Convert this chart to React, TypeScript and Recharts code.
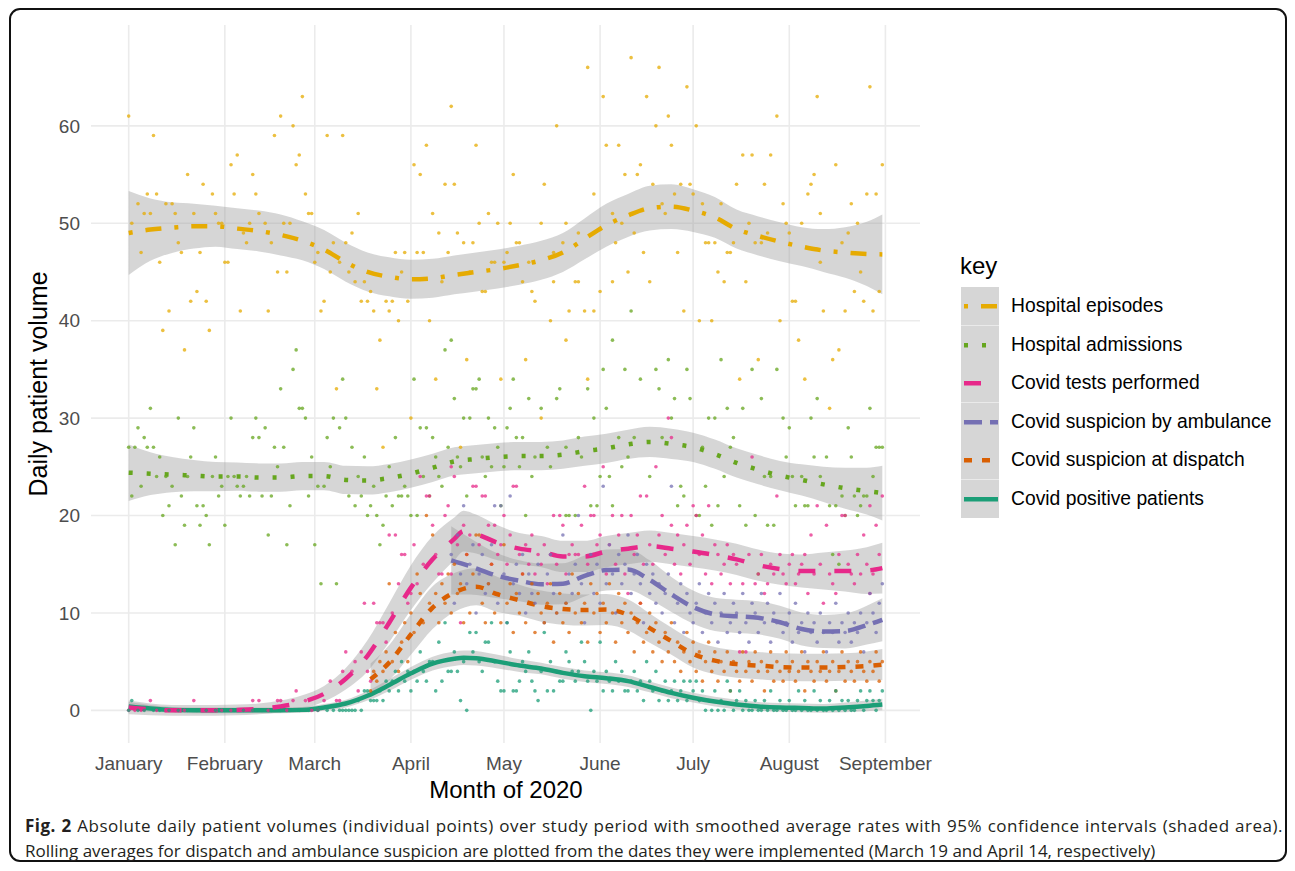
import React from 'react';
import { ComposedChart, Line, Area, Scatter, XAxis, YAxis, CartesianGrid } from 'recharts';

// Day of 2020 (0 = January 1) for the month ticks.
const monthTicks = [0, 31, 60, 91, 121, 152, 182, 213, 244];
const monthLabels = ['January', 'February', 'March', 'April', 'May', 'June', 'July', 'August', 'September'];
const yTicks = [0, 10, 20, 30, 40, 50, 60];

// Daily counts: [day, count].
const episodesPts: [number, number][] = [
  [0, 61], [1, 50], [3, 52], [4, 47], [5, 51], [6, 53], [7, 51], [8, 59], [9, 53], [10, 46], [11, 39], [12, 52], [13, 41], [14, 52],
  [15, 51], [16, 48], [17, 47], [18, 37], [19, 55], [20, 42], [21, 51], [22, 43], [23, 47], [24, 54], [25, 42], [26, 39], [27, 53],
  [28, 51], [29, 50], [30, 50], [31, 46], [32, 46], [33, 56], [34, 53], [35, 57], [36, 41], [37, 49], [38, 48], [39, 50], [40, 55],
  [41, 53], [42, 51], [44, 50], [45, 41], [46, 48], [47, 59], [48, 45], [49, 61], [50, 50], [51, 45], [52, 50], [53, 60], [54, 56],
  [55, 57], [56, 63], [57, 53], [58, 51], [59, 51], [60, 46], [61, 47], [62, 41], [63, 42], [64, 59], [65, 45], [66, 48], [67, 33],
  [68, 46], [69, 59], [70, 48], [71, 45], [72, 49], [73, 44], [74, 51], [75, 42], [76, 44], [77, 42], [78, 43], [79, 41], [80, 33],
  [81, 38], [82, 27], [83, 42], [84, 41], [85, 42], [86, 47], [87, 40], [88, 45], [89, 47], [90, 42], [91, 30], [92, 56], [93, 47],
  [94, 55], [95, 47], [96, 58], [97, 40], [98, 51], [99, 34], [100, 49], [101, 44], [102, 54], [103, 47], [104, 62], [105, 54],
  [106, 49], [107, 27], [108, 48], [109, 36], [110, 45], [111, 48], [112, 58], [113, 50], [114, 43], [115, 43], [116, 51], [117, 46],
  [118, 46], [119, 50], [120, 34], [121, 46], [122, 47], [123, 50], [124, 55], [125, 48], [126, 48], [127, 44], [128, 36], [129, 46],
  [130, 43], [131, 42], [133, 30], [133, 50], [134, 54], [136, 40], [137, 47], [137, 44], [138, 60], [140, 48], [141, 50], [141, 38],
  [142, 41], [144, 44], [145, 44], [145, 49], [147, 41], [148, 66], [148, 34], [150, 53], [150, 41], [152, 43], [153, 63], [154, 58],
  [156, 51], [156, 44], [157, 48], [158, 58], [159, 50], [160, 55], [161, 45], [162, 67], [163, 49], [164, 55], [165, 56], [166, 47],
  [167, 63], [168, 44], [169, 54], [170, 60], [171, 66], [172, 52], [173, 51], [174, 61], [175, 58], [176, 53], [177, 47], [178, 54],
  [179, 41], [180, 64], [181, 54], [182, 53], [183, 60], [184, 40], [185, 52], [186, 48], [187, 48], [188, 40], [189, 48], [190, 45],
  [191, 52], [192, 44], [193, 47], [194, 47], [195, 48], [196, 54], [197, 34], [198, 57], [199, 44], [200, 50], [201, 57], [202, 48],
  [203, 36], [204, 48], [205, 54], [206, 49], [207, 57], [209, 61], [210, 40], [211, 52], [212, 50], [213, 49], [214, 42], [215, 42],
  [216, 38], [217, 50], [218, 34], [219, 53], [220, 54], [221, 55], [222, 63], [223, 51], [223, 46], [224, 41], [226, 31], [227, 36],
  [228, 56], [229, 37], [230, 48], [231, 41], [232, 49], [233, 52], [234, 43], [235, 50], [236, 45], [237, 42], [238, 53], [239, 64],
  [240, 41], [241, 53], [242, 43], [243, 56],
];

const admissionsPts: [number, number][] = [
  [0, 27], [1, 22], [2, 27], [3, 29], [4, 23], [5, 28], [6, 27], [7, 31], [8, 27], [9, 24], [10, 26], [11, 20], [12, 24], [13, 21],
  [14, 23], [15, 17], [16, 30], [17, 22], [18, 19], [19, 24], [20, 26], [21, 29], [22, 21], [23, 19], [24, 21], [25, 20], [26, 17],
  [27, 24], [28, 26], [29, 22], [30, 23], [31, 19], [32, 24], [33, 30], [34, 24], [35, 23], [36, 22], [37, 23], [38, 24], [39, 22],
  [40, 28], [41, 30], [42, 28], [43, 22], [44, 29], [45, 18], [46, 22], [47, 27], [48, 25], [49, 33], [50, 27], [51, 17], [52, 21],
  [53, 35], [54, 37], [55, 31], [56, 31], [57, 30], [58, 22], [59, 26], [60, 17], [61, 23], [62, 13], [63, 23], [64, 28], [65, 25],
  [66, 30], [67, 13], [68, 29], [69, 34], [70, 30], [71, 22], [72, 27], [73, 21], [74, 24], [75, 22], [76, 26], [77, 20], [78, 21],
  [79, 23], [80, 20], [81, 17], [82, 19], [83, 22], [84, 25], [85, 21], [86, 28], [87, 22], [88, 22], [89, 23], [90, 22], [91, 20],
  [92, 34], [93, 20], [94, 29], [95, 24], [96, 29], [97, 22], [98, 28], [99, 26], [100, 24], [101, 23], [102, 37], [103, 27],
  [104, 38], [105, 32], [106, 26], [107, 25], [108, 30], [109, 22], [110, 30], [111, 33], [112, 33], [113, 34], [114, 26], [115, 24],
  [116, 30], [117, 25], [118, 29], [119, 27], [120, 21], [121, 25], [122, 29], [123, 31], [124, 34], [125, 28], [126, 25], [127, 28],
  [128, 20], [129, 32], [130, 24], [131, 26], [133, 31], [135, 27], [136, 25], [138, 32], [139, 33], [141, 27], [141, 20], [142, 20],
  [144, 20], [145, 28], [146, 26], [148, 33], [149, 21], [150, 30], [151, 21], [152, 24], [153, 35], [154, 31], [155, 24], [156, 38],
  [156, 21], [158, 28], [159, 25], [160, 35], [161, 26], [162, 41], [163, 28], [165, 34], [168, 24], [170, 35], [171, 33], [172, 28],
  [174, 36], [175, 30], [176, 32], [177, 21], [178, 23], [179, 22], [180, 35], [181, 32], [183, 20], [184, 20], [185, 27], [186, 23],
  [187, 30], [188, 19], [189, 30], [190, 21], [191, 36], [192, 24], [193, 31], [194, 27], [195, 28], [197, 21], [198, 31], [199, 19],
  [201, 35], [202, 20], [203, 14], [204, 32], [205, 24], [206, 19], [207, 24], [208, 19], [209, 35], [211, 30], [212, 26], [213, 29],
  [214, 24], [215, 21], [217, 24], [218, 21], [219, 21], [220, 30], [221, 26], [222, 32], [223, 24], [225, 26], [226, 21], [227, 16],
  [228, 21], [229, 15], [230, 22], [231, 20], [232, 29], [233, 26], [234, 22], [235, 20], [236, 21], [237, 22], [238, 22], [239, 31],
  [240, 24], [241, 27], [242, 27], [243, 27],
];

const testsPts: [number, number][] = [
  [0, 0], [2, 0], [4, 0], [7, 1], [9, 0], [12, 0], [15, 0], [18, 0], [21, 1], [24, 0], [27, 0], [30, 0], [33, 0], [36, 0], [40, 1],
  [42, 1], [45, 0], [48, 1], [49, 1], [51, 0], [53, 1], [54, 2], [57, 1], [59, 0], [61, 0], [63, 1], [65, 3], [67, 1], [68, 1],
  [69, 4], [70, 6], [72, 4], [73, 5], [74, 2], [75, 6], [76, 11], [77, 4], [78, 3], [79, 11], [80, 9], [81, 9], [82, 9], [83, 7],
  [84, 18], [85, 10], [86, 18], [87, 13], [88, 16], [89, 16], [90, 11], [91, 12], [92, 17], [93, 13], [94, 24], [95, 15], [96, 22],
  [97, 22], [98, 19], [99, 16], [100, 14], [101, 14], [102, 20], [103, 21], [104, 14], [104, 25], [105, 24], [106, 17], [107, 9],
  [108, 19], [109, 16], [110, 18], [111, 23], [112, 23], [113, 17], [114, 22], [115, 22], [116, 19], [117, 15], [118, 19], [119, 16],
  [120, 17], [121, 20], [122, 15], [123, 18], [124, 23], [125, 23], [126, 16], [127, 14], [128, 17], [129, 15], [130, 18], [131, 14],
  [132, 16], [133, 15], [134, 17], [135, 13], [136, 16], [137, 20], [138, 15], [139, 20], [140, 19], [141, 14], [142, 16], [143, 17],
  [144, 16], [145, 16], [146, 19], [147, 23], [148, 15], [149, 20], [150, 20], [151, 17], [152, 18], [153, 25], [154, 14], [155, 17],
  [156, 20], [157, 15], [158, 18], [159, 20], [160, 14], [161, 12], [162, 20], [163, 16], [164, 18], [165, 11], [165, 22], [166, 15],
  [167, 22], [168, 17], [169, 15], [170, 25], [171, 18], [172, 20], [173, 16], [174, 30], [175, 28], [175, 19], [176, 15], [177, 18],
  [178, 14], [179, 17], [180, 19], [181, 15], [182, 21], [183, 20], [184, 16], [185, 18], [186, 14], [187, 21], [188, 13], [189, 17],
  [190, 16], [191, 14], [192, 15], [193, 17], [194, 13], [195, 16], [196, 15], [197, 6], [198, 13], [199, 6], [200, 16], [201, 26],
  [202, 13], [203, 14], [204, 16], [205, 12], [206, 13], [207, 15], [208, 14], [209, 22], [210, 16], [211, 14], [212, 13], [213, 15],
  [214, 16], [215, 13], [216, 14], [217, 15], [218, 16], [219, 12], [220, 18], [221, 14], [222, 21], [223, 15], [224, 11], [225, 19],
  [226, 14], [227, 13], [228, 12], [229, 16], [230, 20], [231, 20], [232, 15], [233, 14], [234, 13], [235, 16], [236, 14], [237, 18],
  [238, 15], [239, 12], [239, 21], [240, 14], [241, 19], [242, 16], [243, 22],
];

const ambulancePts: [number, number][] = [
  [104, 16], [105, 11], [106, 18], [107, 14], [108, 21], [109, 13], [110, 15], [111, 17], [112, 10], [113, 14], [114, 16], [115, 12],
  [116, 13], [117, 17], [118, 21], [119, 11], [120, 21], [121, 14], [122, 9], [123, 22], [124, 13], [125, 15], [126, 12], [127, 16],
  [128, 10], [129, 14], [130, 12], [131, 11], [132, 15], [133, 13], [134, 9], [135, 14], [136, 16], [137, 12], [138, 10], [139, 13],
  [140, 18], [141, 11], [142, 14], [143, 12], [144, 15], [145, 20], [146, 13], [147, 9], [148, 14], [149, 16], [150, 12], [151, 15],
  [152, 11], [153, 23], [154, 13], [155, 17], [156, 14], [157, 10], [158, 16], [159, 13], [160, 15], [161, 18], [162, 12], [163, 14],
  [164, 16], [165, 13], [166, 9], [167, 15], [168, 12], [169, 14], [170, 11], [171, 13], [172, 10], [173, 12], [174, 14], [175, 23],
  [176, 9], [177, 11], [178, 13], [179, 8], [180, 12], [181, 10], [182, 9], [183, 11], [184, 13], [185, 8], [186, 10], [187, 12],
  [188, 9], [189, 11], [190, 7], [191, 10], [192, 12], [193, 8], [194, 9], [195, 11], [196, 10], [197, 8], [198, 12], [199, 9],
  [200, 7], [201, 11], [202, 10], [203, 8], [204, 12], [205, 9], [206, 11], [207, 7], [208, 10], [209, 9], [210, 12], [211, 8],
  [212, 9], [213, 10], [214, 7], [215, 11], [216, 8], [217, 9], [218, 6], [219, 10], [220, 8], [221, 9], [222, 7], [223, 10],
  [224, 8], [225, 6], [226, 9], [227, 8], [228, 11], [229, 7], [230, 9], [231, 8], [232, 10], [233, 7], [234, 9], [235, 8], [236, 10],
  [237, 6], [238, 9], [239, 12], [240, 10], [241, 8], [242, 11], [243, 13],
];

const dispatchPts: [number, number][] = [
  [78, 2], [79, 4], [80, 3], [81, 5], [82, 4], [83, 6], [84, 13], [85, 5], [86, 8], [87, 4], [88, 7], [89, 9], [90, 5], [91, 10],
  [92, 8], [93, 14], [94, 12], [95, 9], [96, 20], [97, 11], [98, 18], [99, 12], [100, 9], [101, 13], [102, 11], [103, 14], [104, 10],
  [105, 15], [106, 12], [107, 13], [108, 9], [109, 16], [110, 10], [111, 14], [112, 18], [113, 18], [114, 11], [115, 9], [116, 13],
  [117, 15], [118, 10], [119, 12], [120, 9], [121, 17], [122, 11], [123, 13], [124, 8], [125, 12], [126, 10], [127, 14], [128, 9],
  [129, 11], [130, 13], [131, 8], [132, 12], [133, 10], [134, 9], [135, 11], [136, 13], [137, 7], [138, 10], [139, 12], [140, 9],
  [141, 11], [142, 8], [143, 14], [144, 10], [145, 12], [146, 9], [147, 11], [148, 7], [149, 13], [150, 10], [151, 12], [152, 8],
  [153, 11], [154, 9], [155, 13], [156, 10], [157, 7], [158, 12], [159, 9], [160, 11], [161, 8], [162, 10], [163, 6], [164, 9],
  [165, 11], [166, 7], [167, 8], [168, 10], [169, 6], [170, 9], [171, 7], [172, 5], [173, 8], [174, 6], [175, 9], [176, 5], [177, 7],
  [178, 4], [179, 6], [180, 8], [181, 5], [182, 7], [183, 4], [184, 6], [185, 3], [186, 5], [187, 7], [188, 4], [189, 6], [190, 3],
  [191, 5], [192, 4], [193, 6], [194, 2], [195, 5], [196, 4], [197, 3], [198, 6], [199, 4], [200, 5], [201, 3], [202, 6], [203, 4],
  [204, 5], [205, 2], [206, 4], [207, 6], [208, 3], [209, 5], [210, 4], [211, 3], [212, 6], [213, 4], [214, 5], [215, 3], [216, 4],
  [217, 6], [218, 2], [219, 5], [220, 4], [221, 3], [222, 5], [223, 4], [224, 6], [225, 3], [226, 4], [227, 5], [228, 2], [229, 4],
  [230, 6], [231, 3], [232, 5], [233, 4], [234, 3], [235, 5], [236, 6], [237, 4], [238, 3], [239, 5], [240, 4], [241, 6], [242, 3],
  [243, 5],
];

const positivePts: [number, number][] = [
  [0, 0], [1, 1], [3, 0], [5, 0], [8, 0], [10, 0], [13, 0], [16, 0], [19, 0], [22, 0], [25, 0], [28, 0], [31, 0], [34, 0], [37, 0],
  [40, 0], [43, 0], [46, 0], [49, 0], [52, 0], [55, 0], [58, 0], [61, 0], [64, 0], [66, 0], [68, 0], [69, 0], [70, 0], [71, 0],
  [72, 0], [73, 0], [74, 1], [75, 0], [76, 2], [77, 2], [78, 1], [79, 1], [80, 1], [81, 2], [82, 1], [83, 3], [84, 2], [85, 3],
  [86, 4], [87, 2], [88, 5], [89, 3], [90, 4], [91, 2], [92, 4], [93, 3], [94, 6], [95, 4], [96, 3], [97, 5], [98, 5], [99, 2],
  [100, 7], [101, 3], [102, 9], [103, 4], [104, 4], [105, 6], [106, 4], [107, 1], [108, 5], [109, 0], [110, 8], [111, 6], [112, 8],
  [113, 5], [114, 4], [115, 7], [116, 7], [117, 9], [118, 5], [119, 3], [120, 2], [121, 2], [122, 9], [123, 6], [124, 2], [125, 2],
  [126, 3], [127, 5], [128, 4], [129, 6], [130, 3], [131, 2], [132, 1], [133, 4], [134, 8], [135, 2], [136, 5], [137, 2], [138, 4],
  [139, 3], [140, 3], [141, 6], [142, 5], [143, 4], [144, 3], [145, 4], [146, 7], [147, 5], [148, 3], [149, 0], [150, 4], [151, 3],
  [152, 7], [153, 2], [154, 4], [155, 3], [156, 2], [157, 5], [158, 3], [159, 4], [160, 2], [161, 2], [162, 3], [163, 4], [164, 2],
  [165, 3], [166, 1], [167, 5], [168, 3], [169, 2], [170, 4], [171, 1], [172, 2], [173, 3], [174, 1], [175, 2], [176, 3], [177, 1],
  [178, 2], [179, 3], [180, 1], [181, 3], [182, 2], [183, 3], [184, 1], [185, 2], [186, 0], [187, 1], [188, 0], [189, 2], [190, 0],
  [191, 1], [192, 0], [193, 3], [194, 2], [195, 0], [196, 1], [197, 2], [198, 0], [199, 1], [200, 0], [201, 0], [202, 1], [203, 0],
  [204, 0], [205, 1], [206, 0], [207, 2], [208, 0], [209, 0], [210, 1], [211, 0], [212, 0], [213, 1], [214, 0], [215, 0], [216, 2],
  [217, 0], [218, 1], [219, 0], [220, 0], [221, 2], [222, 0], [223, 1], [224, 0], [225, 0], [226, 1], [227, 0], [228, 2], [229, 0],
  [230, 1], [231, 0], [232, 1], [233, 0], [234, 0], [235, 1], [236, 2], [237, 0], [238, 1], [239, 2], [240, 1], [241, 0], [242, 1],
  [243, 2],
];

// Smoothed fits: [day, fit, half-width of the 95% band].
const episodesFit: [number, number, number][] = [
  [0, 49.0, 4.3], [7, 49.35, 3.2], [14, 49.55, 2.6], [21, 49.7, 2.3], [28, 49.7, 2.1], [35, 49.45, 2.1], [42, 49.2, 2.1],
  [49, 48.8, 2.1], [56, 48.2, 2.0], [63, 47.3, 2.0], [70, 46.0, 2.0], [77, 45.0, 2.0], [84, 44.5, 2.0], [91, 44.25, 2.0],
  [98, 44.35, 2.0], [105, 44.7, 2.0], [112, 45.0, 2.0], [119, 45.3, 2.0], [126, 45.7, 2.0], [133, 46.2, 2.0], [140, 47.0, 2.0],
  [147, 48.4, 2.1], [154, 49.8, 2.2], [161, 50.8, 2.2], [168, 51.55, 2.3], [175, 51.7, 2.3], [182, 51.3, 2.2], [189, 50.6, 2.1],
  [196, 49.4, 2.0], [203, 48.7, 2.0], [210, 48.1, 2.0], [217, 47.6, 2.0], [224, 47.2, 2.2], [231, 47.0, 2.6], [238, 46.85, 3.3],
  [243, 46.8, 4.1],
];

const admissionsFit: [number, number, number][] = [
  [0, 24.4, 2.9], [7, 24.3, 2.2], [14, 24.2, 1.8], [21, 24.1, 1.6], [28, 24.0, 1.5], [35, 24.0, 1.45], [42, 23.9, 1.45],
  [49, 23.9, 1.45], [56, 24.05, 1.45], [63, 24.05, 1.45], [70, 23.65, 1.45], [77, 23.6, 1.45], [84, 23.85, 1.45], [91, 24.3, 1.45],
  [98, 24.9, 1.45], [105, 25.55, 1.45], [112, 25.8, 1.45], [119, 26.0, 1.45], [126, 26.1, 1.45], [133, 26.1, 1.45],
  [140, 26.25, 1.45], [147, 26.6, 1.5], [154, 26.9, 1.5], [161, 27.3, 1.5], [168, 27.55, 1.55], [175, 27.35, 1.55], [182, 27.0, 1.5],
  [189, 26.3, 1.5], [196, 25.4, 1.5], [203, 24.7, 1.5], [210, 24.1, 1.5], [217, 23.65, 1.6], [224, 23.2, 1.8], [231, 22.8, 2.1],
  [238, 22.5, 2.4], [243, 22.3, 2.8],
];

const testsFit: [number, number, number][] = [
  [0, 0.3, 0.7], [7, 0.1, 0.6], [14, 0.0, 0.55], [21, 0.0, 0.55], [28, 0.0, 0.55], [35, 0.05, 0.55], [42, 0.15, 0.55],
  [49, 0.4, 0.6], [56, 0.85, 0.7], [63, 1.7, 0.8], [70, 3.25, 1.1], [77, 5.6, 1.6], [84, 9.0, 2.0], [91, 12.6, 2.3], [98, 15.5, 2.4],
  [105, 17.6, 2.2], [108, 18.4, 2.1], [112, 18.1, 2.0], [119, 17.2, 1.8], [126, 16.6, 1.6], [133, 16.3, 1.6], [140, 15.8, 1.6],
  [147, 15.8, 1.6], [154, 16.3, 1.6], [161, 16.6, 1.6], [168, 16.85, 1.6], [175, 16.6, 1.6], [182, 16.3, 1.6], [189, 15.95, 1.6],
  [196, 15.5, 1.6], [203, 14.9, 1.6], [210, 14.5, 1.6], [217, 14.3, 1.7], [224, 14.3, 1.9], [231, 14.3, 2.1], [238, 14.35, 2.4],
  [243, 14.6, 2.6],
];

const ambulanceFit: [number, number, number][] = [
  [104, 15.4, 3.5], [110, 14.8, 2.9], [119, 13.8, 2.3], [126, 13.3, 2.1], [133, 12.95, 2.1], [140, 13.0, 2.1], [147, 13.8, 2.1],
  [154, 14.4, 2.1], [161, 14.45, 2.1], [168, 13.4, 2.0], [175, 11.9, 1.8], [182, 10.6, 1.7], [189, 9.85, 1.7], [196, 9.65, 1.7],
  [203, 9.5, 1.7], [210, 9.05, 1.7], [217, 8.35, 1.7], [224, 8.1, 1.7], [231, 8.15, 1.8], [238, 8.75, 2.0], [243, 9.3, 2.2],
];

const dispatchFit: [number, number, number][] = [
  [78, 3.2, 1.6], [84, 4.9, 1.8], [91, 7.8, 2.1], [98, 10.55, 2.2], [105, 12.1, 2.0], [112, 12.7, 1.9], [119, 11.9, 1.8],
  [126, 11.3, 1.6], [133, 10.7, 1.6], [140, 10.4, 1.6], [147, 10.3, 1.6], [154, 10.35, 1.6], [161, 9.8, 1.6], [168, 8.45, 1.5],
  [175, 7.1, 1.4], [182, 5.8, 1.4], [189, 5.1, 1.4], [196, 4.75, 1.4], [203, 4.6, 1.4], [210, 4.45, 1.4], [217, 4.4, 1.4],
  [224, 4.4, 1.4], [231, 4.45, 1.4], [238, 4.55, 1.5], [243, 4.7, 1.6],
];

const positiveFit: [number, number, number][] = [
  [0, 0.4, 0.45], [7, 0.2, 0.35], [14, 0.05, 0.3], [21, 0.0, 0.3], [28, 0.0, 0.3], [35, 0.0, 0.3], [42, 0.0, 0.3], [49, 0.0, 0.3],
  [56, 0.05, 0.3], [63, 0.3, 0.35], [70, 0.7, 0.4], [77, 1.5, 0.5], [84, 2.6, 0.6], [91, 3.8, 0.65], [98, 4.8, 0.7], [105, 5.3, 0.75],
  [108, 5.4, 0.75], [112, 5.35, 0.75], [119, 5.0, 0.7], [126, 4.6, 0.65], [133, 4.3, 0.6], [140, 3.85, 0.6], [147, 3.5, 0.6],
  [154, 3.3, 0.6], [161, 3.0, 0.6], [168, 2.4, 0.55], [175, 1.8, 0.55], [182, 1.3, 0.5], [189, 0.9, 0.5], [196, 0.6, 0.5],
  [203, 0.4, 0.45], [210, 0.3, 0.45], [217, 0.25, 0.45], [224, 0.2, 0.45], [231, 0.3, 0.5], [238, 0.45, 0.55], [243, 0.6, 0.6],
];

interface Series {
  key: string;
  label: string;
  color: string;
  dash?: string;
  pts: [number, number][];
  fit: [number, number, number][];
}

// Legend order (top to bottom), Dark2 colours, ggplot-ish linetypes.
const series: Series[] = [
  { key: 'episodes', label: 'Hospital episodes', color: '#E6AB02', dash: '4 13 16 13', pts: episodesPts, fit: episodesFit },
  { key: 'admissions', label: 'Hospital admissions', color: '#66A61E', dash: '4 14', pts: admissionsPts, fit: admissionsFit },
  { key: 'tests', label: 'Covid tests performed', color: '#E7298A', dash: '17 19', pts: testsPts, fit: testsFit },
  { key: 'ambulance', label: 'Covid suspicion by ambulance', color: '#7570B3', dash: '18 8', pts: ambulancePts, fit: ambulanceFit },
  { key: 'dispatch', label: 'Covid suspicion at dispatch', color: '#D95F02', dash: '8 10', pts: dispatchPts, fit: dispatchFit },
  { key: 'positive', label: 'Covid positive patients', color: '#1B9E77', pts: positivePts, fit: positiveFit },
];

// Lines are stacked bottom-up so the pink dashes sit on top of the teal near zero.
const drawOrder = [...series].reverse();

const FONT = '"Liberation Sans", Arial, Helvetica, sans-serif';
const CAPTION_FONT = '"Open Sans", "Noto Sans", sans-serif';
const BAND_FILL = '#999999';

const dotShape = (color: string) => (props: any) => {
  if (props.cx == null || props.cy == null) return <g />;
  return <circle cx={props.cx} cy={props.cy} r={1.8} fill={color} fillOpacity={0.75} />;
};

function LegendKey({ color, dash }: { color: string; dash?: string }) {
  return (
    <svg width={38} height={38.5} style={{ display: 'block' }}>
      <rect x={0} y={0} width={38} height={38.5} fill={BAND_FILL} fillOpacity={0.4} />
      <line x1={3} x2={37} y1={19.25} y2={19.25} stroke={color} strokeWidth={4.5} strokeDasharray={dash} />
    </svg>
  );
}

const captionLine: React.CSSProperties = {
  position: 'absolute',
  left: 17,
  width: 1258,
  margin: 0,
  padding: 0,
  fontFamily: CAPTION_FONT,
  fontSize: 17,
  lineHeight: '25px',
  color: '#231f20',
  whiteSpace: 'nowrap',
};

export default function App() {
  // Plot panel in chart coords: x 83..912, y 17..735.
  return (
    <div style={{ position: 'relative', width: 1279, height: 855, fontFamily: FONT, background: '#fff' }}>
      <div
        style={{
          position: 'absolute',
          left: 1,
          top: 0,
          width: 1278,
          height: 854,
          border: '2px solid #111',
          borderRadius: 11,
          boxSizing: 'border-box',
        }}
      />
      <div style={{ position: 'absolute', left: 0, top: 0 }}>
        <ComposedChart width={930} height={790} margin={{ top: 17, right: 18, bottom: 25, left: 43 }}>
          <CartesianGrid stroke="#ebebeb" strokeWidth={1.6} syncWithTicks />
          <XAxis
            dataKey="day"
            type="number"
            domain={[-12.15, 255.15]}
            allowDataOverflow
            ticks={monthTicks}
            tickFormatter={(v: number) => monthLabels[monthTicks.indexOf(v)] ?? ''}
            interval={0}
            axisLine={false}
            tickLine={false}
            tickSize={6}
            tickMargin={8}
            height={30}
            tick={{ fontSize: 19, fill: '#4d4d4d', fontFamily: FONT }}
          />
          <YAxis
            type="number"
            domain={[-3.35, 70.35]}
            allowDataOverflow
            ticks={yTicks}
            interval={0}
            axisLine={false}
            tickLine={false}
            tickSize={6}
            tickMargin={5}
            width={40}
            tick={{ fontSize: 19, fill: '#4d4d4d', fontFamily: FONT }}
          />
          {series.map((s) => (
            <Scatter
              key={`pts-${s.key}`}
              data={s.pts.map(([day, v]) => ({ day, v }))}
              dataKey="v"
              shape={dotShape(s.color)}
              isAnimationActive={false}
            />
          ))}
          {drawOrder.map((s) => (
            <Area
              key={`band-${s.key}`}
              data={s.fit.map(([day, f, h]) => ({ day, band: [f - h, f + h] }))}
              dataKey="band"
              type="monotone"
              stroke="none"
              fill={BAND_FILL}
              fillOpacity={0.4}
              activeDot={false}
              dot={false}
              isAnimationActive={false}
            />
          ))}
          {drawOrder.map((s) => (
            <Line
              key={`fit-${s.key}`}
              data={s.fit.map(([day, f]) => ({ day, fit: f }))}
              dataKey="fit"
              type="monotone"
              stroke={s.color}
              strokeWidth={4.5}
              strokeDasharray={s.dash}
              strokeLinecap="butt"
              dot={false}
              activeDot={false}
              isAnimationActive={false}
            />
          ))}
        </ComposedChart>
      </div>

      {/* axis titles */}
      <div style={{ position: 'absolute', left: 30, top: 376, width: 0, height: 0 }}>
        <div
          style={{
            position: 'absolute',
            transform: 'translate(-50%, -50%) rotate(-90deg)',
            whiteSpace: 'nowrap',
            fontSize: 25,
            color: '#000',
          }}
        >
          Daily patient volume
        </div>
      </div>
      <div
        style={{
          position: 'absolute',
          left: 498,
          top: 782,
          transform: 'translate(-50%, -50%)',
          whiteSpace: 'nowrap',
          fontSize: 24,
          color: '#000',
        }}
      >
        Month of 2020
      </div>

      {/* legend */}
      <div style={{ position: 'absolute', left: 952, top: 244, fontSize: 24, lineHeight: '28px', color: '#000' }}>key</div>
      <div style={{ position: 'absolute', left: 953, top: 279 }}>
        {series.map((s) => (
          <div key={`leg-${s.key}`} style={{ display: 'flex', alignItems: 'center', height: 38.5 }}>
            <LegendKey color={s.color} dash={s.dash} />
            <span style={{ marginLeft: 12, fontSize: 19.3, color: '#000', whiteSpace: 'nowrap' }}>{s.label}</span>
          </div>
        ))}
      </div>

      {/* caption: first line runs to the full width, second line is ragged */}
      <div style={{ ...captionLine, top: 805, textAlign: 'justify', textAlignLast: 'justify', letterSpacing: 0.5 }}>
        <b style={{ fontWeight: 700 }}>Fig. 2</b> Absolute daily patient volumes (individual points) over study period with
        smoothed average rates with 95% confidence intervals (shaded area).
      </div>
      <div style={{ ...captionLine, top: 830, textAlign: 'left' }}>
        Rolling averages for dispatch and ambulance suspicion are plotted from the dates they were implemented (March 19 and
        April 14, respectively)
      </div>
    </div>
  );
}
